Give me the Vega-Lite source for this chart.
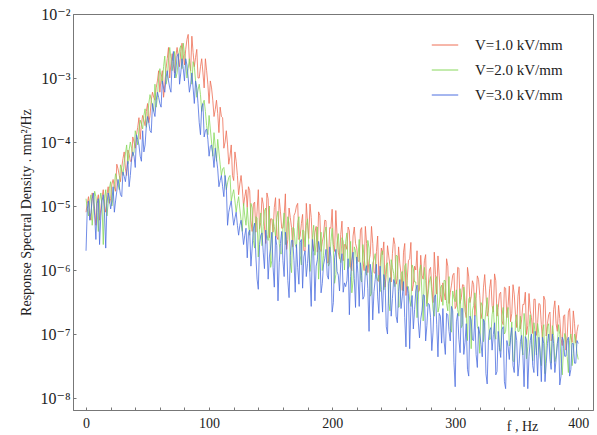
{
"$schema": "https://vega.github.io/schema/vega-lite/v6.json",
"width": 520, "height": 396,
"autosize": {"type": "none"},
"padding": {"left": 73, "top": 14, "right": 4, "bottom": 25},
"background": "white",
"config": {"view": {"stroke": "#777", "strokeWidth": 1}, "font": "Liberation Serif"},
"data": {"values": [
{"f":0,"a":8e-6,"b":1.3e-5,"c":2e-6},{"f":2,"a":1.4e-5,"b":7e-6,"c":1.2e-5},{"f":4,"a":6e-6,"b":1.5e-5,"c":8e-6},{"f":6,"a":1.2e-5,"b":9e-6,"c":1.6e-5},{"f":8,"a":5e-6,"b":1.4e-5,"c":3e-6},{"f":10,"a":1.5e-5,"b":4e-6,"c":1.3e-5},{"f":12,"a":9e-6,"b":1.6e-5,"c":7e-6},{"f":14,"a":1.8e-5,"b":2.5e-6,"c":1.5e-5},{"f":16,"a":8e-6,"b":1.8e-5,"c":2.2e-6},{"f":18,"a":2e-5,"b":1.1e-5,"c":1.6e-5},
{"f":20,"a":1.3e-5,"b":2.4e-5,"c":9e-6},{"f":22,"a":2.6e-5,"b":1.4e-5,"c":2e-5},{"f":24,"a":1.7e-5,"b":3.2e-5,"c":1.2e-5},{"f":26,"a":3.8e-5,"b":2.2e-5,"c":2.6e-5},{"f":28,"a":2.4e-5,"b":4.4e-5,"c":1.5e-5},{"f":30,"a":5.5e-5,"b":3e-5,"c":3.4e-5},{"f":32,"a":3.8e-5,"b":6.5e-5,"c":2.4e-5},{"f":34,"a":7.5e-5,"b":4.5e-5,"c":5e-5},{"f":36,"a":5e-5,"b":1e-4,"c":3e-5},{"f":38,"a":1.2e-4,"b":6e-5,"c":7e-5},
{"f":40,"a":8e-5,"b":1.5e-4,"c":4e-5},{"f":42,"a":1.7e-4,"b":9e-5,"c":1.1e-4},{"f":44,"a":1.1e-4,"b":2.2e-4,"c":6e-5},{"f":46,"a":2.6e-4,"b":1.6e-4,"c":1.5e-4},{"f":48,"a":1.8e-4,"b":3.3e-4,"c":9e-5},{"f":50,"a":4e-4,"b":2.4e-4,"c":2.5e-4},{"f":52,"a":2.6e-4,"b":5.5e-4,"c":1.5e-4},{"f":54,"a":6e-4,"b":3.5e-4,"c":4e-4},{"f":56,"a":4.5e-4,"b":8e-4,"c":2.5e-4},{"f":58,"a":9e-4,"b":5e-4,"c":6e-4},
{"f":60,"a":6e-4,"b":1.4e-3,"c":4e-4},{"f":62,"a":1.3e-3,"b":8e-4,"c":9e-4},{"f":64,"a":8e-4,"b":2.2e-3,"c":6e-4},{"f":66,"a":2e-3,"b":1e-3,"c":1.3e-3},{"f":68,"a":1e-3,"b":3e-3,"c":7e-4},{"f":70,"a":2.4e-3,"b":1.3e-3,"c":1.8e-3},{"f":72,"a":1.2e-3,"b":2.6e-3,"c":1e-3},{"f":74,"a":3e-3,"b":1.2e-3,"c":2.2e-3},{"f":76,"a":1.5e-3,"b":2.8e-3,"c":8e-4},{"f":78,"a":3.5e-3,"b":1.4e-3,"c":2e-3},
{"f":80,"a":1.6e-3,"b":2.4e-3,"c":9e-4},{"f":82,"a":4e-3,"b":1e-3,"c":1.6e-3},{"f":84,"a":1.8e-3,"b":2e-3,"c":6e-4},{"f":86,"a":4.5e-3,"b":8e-4,"c":1.2e-3},{"f":88,"a":1.5e-3,"b":1.5e-3,"c":4e-4},{"f":90,"a":2.8e-3,"b":5e-4,"c":7e-4},{"f":92,"a":1e-3,"b":8e-4,"c":2e-4},{"f":94,"a":2e-3,"b":3e-4,"c":3.5e-4},{"f":96,"a":7e-4,"b":4.5e-4,"c":1.2e-4},{"f":98,"a":1.3e-3,"b":1.8e-4,"c":1.6e-4},
{"f":100,"a":4e-4,"b":2.6e-4,"c":6e-5},{"f":102,"a":7e-4,"b":1e-4,"c":9e-5},{"f":104,"a":2.5e-4,"b":1.4e-4,"c":4e-5},{"f":106,"a":4.5e-4,"b":5e-5,"c":5.5e-5},{"f":108,"a":1.4e-4,"b":7e-5,"c":2e-5},{"f":110,"a":2.5e-4,"b":3e-5,"c":3e-5},{"f":112,"a":8e-5,"b":4e-5,"c":1.4e-5},{"f":114,"a":1.5e-4,"b":1.8e-5,"c":2e-5},{"f":116,"a":4.5e-5,"b":2.8e-5,"c":8e-6},{"f":118,"a":9e-5,"b":1.2e-5,"c":1.2e-5},
{"f":120,"a":2.5e-5,"b":1.8e-5,"c":5e-6},{"f":122,"a":5e-5,"b":8e-6,"c":8e-6},{"f":124,"a":1.5e-5,"b":1.4e-5,"c":3.5e-6},{"f":126,"a":3e-5,"b":6e-6,"c":6e-6},{"f":128,"a":1e-5,"b":1.1e-5,"c":2.5e-6},{"f":130,"a":1.8e-5,"b":5e-6,"c":4.5e-6},
{"f":132,"a":2e-5,"b":5.2e-6,"c":3.8e-6},{"f":134,"a":5.9e-6,"b":1.1e-5,"c":1.15e-6},{"f":136,"a":1.07e-5,"b":2.9e-6,"c":4.4e-6},{"f":138,"a":3.9e-6,"b":6.8e-6,"c":1.66e-6},{"f":140,"a":1.8e-5,"b":1.6e-6,"c":5e-7},{"f":142,"a":5.5e-6,"b":7.8e-6,"c":3.5e-6},{"f":144,"a":1.07e-5,"b":4.8e-6,"c":1.9e-6},{"f":146,"a":2.6e-6,"b":9.3e-6,"c":4.2e-6},{"f":148,"a":1.3e-5,"b":2.9e-6,"c":7.2e-7},{"f":150,"a":6.3e-6,"b":1.1e-6,"c":2.2e-6},
{"f":152,"a":3.9e-6,"b":6.2e-6,"c":1.1e-6},{"f":154,"a":1.35e-5,"b":3.4e-6,"c":3.4e-6},{"f":156,"a":3e-6,"b":8.3e-6,"c":3.3e-7},{"f":158,"a":8.1e-6,"b":1.8e-6,"c":2.6e-6},{"f":160,"a":4.5e-6,"b":4.5e-6,"c":1.4e-6},{"f":162,"a":1.55e-5,"b":2.5e-6,"c":3.9e-6},{"f":164,"a":3e-6,"b":6.8e-6,"c":6.8e-7},{"f":166,"a":6.6e-6,"b":1.3e-6,"c":1.7e-6},{"f":168,"a":2.3e-6,"b":4.6e-6,"c":2.9e-6},{"f":170,"a":7.9e-6,"b":2.5e-6,"c":4.5e-7},
{"f":172,"a":1.1e-5,"b":5.5e-6,"c":1.1e-6},{"f":174,"a":3.4e-6,"b":1.7e-6,"c":2.7e-6},{"f":176,"a":7.4e-6,"b":4.2e-6,"c":5.2e-7},{"f":178,"a":2e-6,"b":2.3e-6,"c":2e-6},{"f":180,"a":5.6e-6,"b":6.3e-6,"c":1.26e-6},{"f":182,"a":1.07e-5,"b":9.5e-7,"c":7.8e-7},{"f":184,"a":2.6e-6,"b":3.2e-6,"c":3e-6},{"f":186,"a":3.9e-6,"b":1.7e-6,"c":3.3e-7},{"f":188,"a":1.9e-6,"b":4.7e-6,"c":1.45e-6},{"f":190,"a":7.1e-6,"b":2e-6,"c":2e-6},
{"f":192,"a":2.75e-6,"b":9.8e-7,"c":6.2e-7},{"f":194,"a":6e-6,"b":3.8e-6,"c":1.5e-6},{"f":196,"a":1.3e-6,"b":2.3e-6,"c":8.3e-7},{"f":198,"a":4.6e-6,"b":1.3e-6,"c":2.3e-6},{"f":200,"a":8.9e-6,"b":4.5e-6,"c":2.2e-7},{"f":202,"a":1.95e-6,"b":6.2e-7,"c":1.55e-6},{"f":204,"a":3.4e-6,"b":2.7e-6,"c":9.5e-7},{"f":206,"a":1.5e-6,"b":1.66e-6,"c":4.7e-7},{"f":208,"a":5.8e-6,"b":3.2e-6,"c":1.8e-6},{"f":210,"a":2.5e-6,"b":1e-6,"c":6.3e-7},
{"f":212,"a":2.1e-6,"b":3.8e-6,"c":6.8e-7},{"f":214,"a":4.1e-6,"b":1.15e-6,"c":2e-7},{"f":216,"a":9.8e-7,"b":4.4e-7,"c":1.4e-6},{"f":218,"a":4.7e-6,"b":2.3e-6,"c":7.4e-7},{"f":220,"a":2.2e-6,"b":1.26e-6,"c":1.6e-6},{"f":222,"a":1.35e-6,"b":3e-6,"c":2.7e-7},{"f":224,"a":4.6e-6,"b":6.5e-7,"c":8.1e-7},{"f":226,"a":9.8e-7,"b":1.55e-6,"c":3.9e-7},{"f":228,"a":2.6e-6,"b":8.3e-7,"c":1.17e-6},{"f":230,"a":1.4e-6,"b":2.2e-6,"c":1.1e-7},
{"f":232,"a":4.8e-6,"b":4.3e-7,"c":8.5e-7},{"f":234,"a":9.1e-7,"b":1.45e-6,"c":4.6e-7},{"f":236,"a":1.95e-6,"b":7.8e-7,"c":1.23e-6},{"f":238,"a":6.6e-7,"b":8.3e-7,"c":2.1e-7},{"f":240,"a":2.2e-6,"b":1.8e-6,"c":5e-7},{"f":242,"a":2.75e-6,"b":4.9e-7,"c":8.5e-7},{"f":244,"a":8.5e-7,"b":1.2e-6,"c":1.3e-7},{"f":246,"a":1.66e-6,"b":3e-7,"c":6.2e-7},{"f":248,"a":6.5e-7,"b":1.45e-6,"c":1.9e-7},{"f":250,"a":3.2e-6,"b":8.9e-7,"c":7.1e-7},
{"f":252,"a":6e-7,"b":1.7e-6,"c":1.9e-7},{"f":254,"a":2.3e-6,"b":2.6e-7,"c":4.6e-7},{"f":256,"a":8.7e-7,"b":8.7e-7,"c":2.5e-7},{"f":258,"a":1.9e-6,"b":4.7e-7,"c":6.6e-7},{"f":260,"a":4e-7,"b":1.26e-6,"c":6.3e-8},{"f":262,"a":1.4e-6,"b":5.5e-7,"c":4.3e-7},{"f":264,"a":2.7e-6,"b":2.7e-7,"c":2.6e-7},{"f":266,"a":5.9e-7,"b":1.05e-6,"c":1.2e-7},{"f":268,"a":1e-6,"b":6.5e-7,"c":4.7e-7},{"f":270,"a":4.5e-7,"b":3.5e-7,"c":1.6e-7},
{"f":272,"a":1.7e-6,"b":1.2e-6,"c":1.7e-7},{"f":274,"a":7.2e-7,"b":1.6e-7,"c":4.1e-7},{"f":276,"a":1.74e-6,"b":6.9e-7,"c":7.8e-8},{"f":278,"a":5.2e-7,"b":4.2e-7,"c":3e-7},{"f":280,"a":1.1e-6,"b":7.9e-7,"c":1.8e-7},{"f":282,"a":3.1e-7,"b":2.4e-7,"c":1.07e-7},{"f":284,"a":8.5e-7,"b":7.2e-7,"c":4.1e-7},{"f":286,"a":1.66e-6,"b":2.2e-7,"c":4.4e-8},{"f":288,"a":4.1e-7,"b":5.2e-7,"c":1.9e-7},{"f":290,"a":6.3e-7,"b":2.8e-7,"c":2.5e-7},
{"f":292,"a":3.4e-7,"b":6.8e-7,"c":4.8e-8},{"f":294,"a":1.15e-6,"b":2.3e-7,"c":2e-7},{"f":296,"a":4.4e-7,"b":1.2e-7,"c":7.8e-8},{"f":298,"a":8.3e-7,"b":4.7e-7,"c":2.3e-7},{"f":300,"a":2.5e-7,"b":3.2e-7,"c":1.5e-8},
{"f":302,"a":1.1e-6,"b":2.4e-7,"c":2.1e-7},{"f":304,"a":3e-7,"b":5.1e-7,"c":5.1e-8},{"f":306,"a":5.9e-7,"b":1.4e-7,"c":2.5e-7},{"f":308,"a":2.3e-7,"b":3.3e-7,"c":7.4e-8},{"f":310,"a":1.1e-6,"b":7.9e-8,"c":2.8e-8},{"f":312,"a":3.1e-7,"b":3.8e-7,"c":1.9e-7},{"f":314,"a":6.8e-7,"b":2.3e-7,"c":8.1e-8},{"f":316,"a":1.9e-7,"b":4.4e-7,"c":1.95e-7},{"f":318,"a":8.1e-7,"b":1.3e-7,"c":3e-8},{"f":320,"a":4e-7,"b":5e-8,"c":1e-7},
{"f":322,"a":2.2e-7,"b":2.75e-7,"c":4.4e-8},{"f":324,"a":8.5e-7,"b":1.5e-7,"c":1.5e-7},{"f":326,"a":1.9e-7,"b":3.7e-7,"c":1.66e-8},{"f":328,"a":5.1e-7,"b":8.1e-8,"c":1.15e-7},{"f":330,"a":2.8e-7,"b":2e-7,"c":5.6e-8},{"f":332,"a":8.7e-7,"b":1.07e-7,"c":1.5e-7},{"f":334,"a":1.9e-7,"b":2.9e-7,"c":2.6e-8},{"f":336,"a":4.2e-7,"b":5.5e-8,"c":6.2e-8},{"f":338,"a":1.6e-7,"b":1.9e-7,"c":1.17e-7},{"f":340,"a":5.4e-7,"b":1e-7,"c":1.8e-8},
{"f":342,"a":1.8e-7,"b":2.1e-7,"c":7.9e-8},{"f":344,"a":5.6e-7,"b":6.5e-8,"c":4e-8},{"f":346,"a":2.1e-7,"b":1.55e-7,"c":1.26e-7},{"f":348,"a":4.2e-7,"b":3.7e-8,"c":2.5e-8},{"f":350,"a":1.26e-7,"b":2e-7,"c":7.9e-8},{"f":352,"a":5.5e-7,"b":1.1e-7,"c":3.5e-8},{"f":354,"a":1.66e-7,"b":6.8e-8,"c":9.5e-8},{"f":356,"a":2.9e-7,"b":2.1e-7,"c":1.5e-8},{"f":358,"a":9.8e-8,"b":4.1e-8,"c":8.1e-8},{"f":360,"a":4.3e-7,"b":1.26e-7,"c":4.5e-8},
{"f":362,"a":1.8e-7,"b":6.9e-8,"c":1e-7},{"f":364,"a":3.5e-7,"b":1.5e-7,"c":2.5e-8},{"f":366,"a":9.5e-8,"b":4.7e-8,"c":5.6e-8},{"f":368,"a":3e-7,"b":1.02e-7,"c":8.9e-8},{"f":370,"a":1.4e-7,"b":3.2e-8,"c":1.8e-8},{"f":372,"a":3.9e-7,"b":1.4e-7,"c":7.1e-8},{"f":374,"a":9.3e-8,"b":6.6e-8,"c":3.5e-8},{"f":376,"a":2e-7,"b":1.45e-7,"c":1e-7},{"f":378,"a":7.8e-8,"b":3.5e-8,"c":2.8e-8},{"f":380,"a":2.4e-7,"b":9.5e-8,"c":7.1e-8},
{"f":382,"a":1.45e-7,"b":4.6e-8,"c":4e-8},{"f":384,"a":2.8e-7,"b":1.4e-7,"c":8.9e-8},{"f":386,"a":8.5e-8,"b":3.8e-8,"c":2.2e-8},{"f":388,"a":1.9e-7,"b":5.9e-8,"c":7.9e-8},{"f":390,"a":5.6e-8,"b":8.9e-8,"c":4.5e-8},{"f":392,"a":2.2e-7,"b":2.5e-8,"c":8.9e-8},{"f":394,"a":9.5e-8,"b":1e-7,"c":2.8e-8},{"f":396,"a":2.3e-7,"b":5e-8,"c":7.1e-8},{"f":398,"a":7.2e-8,"b":7.9e-8,"c":3.5e-8},{"f":400,"a":1.4e-7,"b":4e-8,"c":7.1e-8},
{"f":1,"a":1.1e-5,"b":9e-6,"c":9e-6},{"f":3,"a":7e-6,"b":1.2e-5,"c":6e-6},{"f":5,"a":1.6e-5,"b":5e-6,"c":1.3e-5},{"f":7,"a":9e-6,"b":1.7e-5,"c":7e-6},{"f":9,"a":1.2e-5,"b":8e-6,"c":1.1e-5},{"f":11,"a":6e-6,"b":1.2e-5,"c":2.5e-6},{"f":13,"a":1.4e-5,"b":1e-5,"c":1.2e-5},{"f":15,"a":1e-5,"b":1.3e-5,"c":8e-6},{"f":17,"a":1.5e-5,"b":7e-6,"c":1.1e-5},{"f":19,"a":1.1e-5,"b":1.9e-5,"c":1.3e-5},
{"f":21,"a":2.2e-5,"b":1e-5,"c":1.2e-5},{"f":23,"a":2e-5,"b":2.2e-5,"c":8e-6},{"f":25,"a":4.5e-5,"b":2.6e-5,"c":1.7e-5},{"f":27,"a":3e-5,"b":1.8e-5,"c":2e-5},{"f":29,"a":4e-5,"b":3.8e-5,"c":1.4e-5},{"f":31,"a":7e-5,"b":4.8e-5,"c":2.9e-5},{"f":33,"a":3e-5,"b":9e-5,"c":3.5e-5},{"f":35,"a":6.5e-5,"b":7.5e-5,"c":2e-5},{"f":37,"a":5e-5,"b":8e-5,"c":5.5e-5},{"f":39,"a":1e-4,"b":7e-5,"c":6e-5},
{"f":41,"a":1.3e-4,"b":1.2e-4,"c":1.3e-4},{"f":43,"a":2.4e-4,"b":1.6e-4,"c":9e-5},{"f":45,"a":1.9e-4,"b":1.9e-4,"c":5e-5},{"f":47,"a":2.2e-4,"b":2.6e-4,"c":7e-5},{"f":49,"a":3e-4,"b":1.7e-4,"c":1.8e-4},{"f":51,"a":2e-4,"b":4e-4,"c":2e-4},{"f":53,"a":4.5e-4,"b":4.5e-4,"c":1.4e-4},{"f":55,"a":5e-4,"b":3e-4,"c":3e-4},{"f":57,"a":7e-4,"b":3.5e-4,"c":4.5e-4},{"f":59,"a":1.3e-3,"b":1e-3,"c":5e-4},
{"f":61,"a":1e-3,"b":1e-3,"c":3.5e-4},{"f":63,"a":5e-4,"b":1.5e-3,"c":7e-4},{"f":65,"a":1.4e-3,"b":8e-4,"c":1e-3},{"f":67,"a":3e-3,"b":1.9e-3,"c":9e-4},{"f":69,"a":1.7e-3,"b":2e-3,"c":6e-4},{"f":71,"a":1.6e-3,"b":1.8e-3,"c":2.6e-3},{"f":73,"a":2.2e-3,"b":1e-3,"c":1.3e-3},{"f":75,"a":2.1e-3,"b":1.9e-3,"c":2.4e-3},{"f":77,"a":2.6e-3,"b":3.2e-3,"c":1.2e-3},{"f":79,"a":2.3e-3,"b":3.5e-3,"c":1.4e-3},
{"f":81,"a":2.8e-3,"b":1.7e-3,"c":2e-3},{"f":83,"a":4.8e-3,"b":1.4e-3,"c":1e-3},{"f":85,"a":1.3e-3,"b":1.3e-3,"c":8e-4},{"f":87,"a":2.5e-3,"b":1.8e-3,"c":7e-4},{"f":89,"a":2.1e-3,"b":9e-4,"c":9e-4},{"f":91,"a":1e-3,"b":6.5e-4,"c":4e-4},{"f":93,"a":1.5e-3,"b":5.5e-4,"c":1.3e-4},{"f":95,"a":1.2e-3,"b":4e-4,"c":4e-4},{"f":97,"a":2e-3,"b":3e-4,"c":1.5e-4},{"f":99,"a":8e-4,"b":1.3e-4,"c":1.1e-4},
{"f":101,"a":9e-4,"b":1.6e-4,"c":8.5e-5},{"f":103,"a":4.5e-4,"b":6e-5,"c":6.5e-5},{"f":105,"a":3.2e-4,"b":8.5e-5,"c":8e-5},{"f":107,"a":2.8e-4,"b":1.1e-4,"c":3.8e-5},{"f":109,"a":3.5e-4,"b":4.5e-5,"c":2.5e-5},{"f":111,"a":2.4e-4,"b":3.8e-5,"c":2e-5},{"f":113,"a":1e-4,"b":2.8e-5,"c":3e-5},{"f":115,"a":9e-5,"b":2.3e-5,"c":5e-6},{"f":117,"a":6e-5,"b":3e-5,"c":1e-5},{"f":119,"a":3e-5,"b":1.5e-5,"c":7.5e-6},
{"f":121,"a":7e-5,"b":1.2e-5,"c":6.5e-6},{"f":123,"a":3e-5,"b":1.1e-5,"c":5e-6},{"f":125,"a":2.2e-5,"b":9e-6,"c":5e-6},{"f":127,"a":1.9e-5,"b":4e-6,"c":4e-6},{"f":129,"a":1.4e-5,"b":7e-6,"c":3.5e-6},
{"f":131,"a":9.5e-6,"b":9.5e-6,"c":1.55e-6},{"f":133,"a":1.74e-5,"b":3.5e-6,"c":4.2e-6},{"f":135,"a":4e-6,"b":9.3e-6,"c":2.2e-6},{"f":137,"a":1.15e-5,"b":2.2e-6,"c":5.4e-6},{"f":139,"a":8.3e-6,"b":6.5e-6,"c":7.2e-7},{"f":141,"a":4.4e-6,"b":4.9e-6,"c":2.5e-6},{"f":143,"a":1.35e-5,"b":2.4e-6,"c":3.8e-6},{"f":145,"a":4.7e-6,"b":8.3e-6,"c":1.05e-6},{"f":147,"a":1.6e-5,"b":3.6e-6,"c":2.9e-6},{"f":149,"a":3.2e-6,"b":1e-5,"c":1.6e-6},
{"f":151,"a":6.3e-6,"b":1.4e-6,"c":3.9e-6},{"f":153,"a":9.5e-6,"b":4.8e-6,"c":5.4e-7},{"f":155,"a":3.3e-6,"b":6.6e-6,"c":2.4e-6},{"f":157,"a":1.3e-5,"b":2.6e-6,"c":1.3e-6},{"f":159,"a":4.5e-6,"b":1.8e-6,"c":4e-6},{"f":161,"a":7e-6,"b":7.8e-6,"c":7.9e-7},{"f":163,"a":2.1e-6,"b":3e-6,"c":2.4e-6},{"f":165,"a":9.3e-6,"b":5.3e-6,"c":3.7e-7},{"f":167,"a":4.6e-6,"b":9.1e-7,"c":2.9e-6},{"f":169,"a":7.1e-6,"b":4.5e-6,"c":1.4e-6},
{"f":171,"a":1e-5,"b":2.2e-6,"c":2.5e-6},{"f":173,"a":3e-6,"b":6.8e-6,"c":6e-7},{"f":175,"a":5.3e-6,"b":1.2e-6,"c":3e-6},{"f":177,"a":2e-6,"b":4.1e-6,"c":1.6e-6},{"f":179,"a":1.1e-5,"b":5e-6,"c":7.9e-7},{"f":181,"a":3.1e-6,"b":2.5e-6,"c":2.5e-6},{"f":183,"a":6.6e-6,"b":1.5e-6,"c":2.7e-7},{"f":185,"a":2e-6,"b":5e-6,"c":1.9e-6},{"f":187,"a":4.8e-6,"b":2.7e-6,"c":1.15e-6},{"f":189,"a":8.1e-6,"b":7.2e-7,"c":2.8e-6},
{"f":191,"a":1.95e-6,"b":3.9e-6,"c":4.4e-7},{"f":193,"a":3.4e-6,"b":1.7e-6,"c":1.2e-6},{"f":195,"a":5.9e-6,"b":4.7e-6,"c":2.1e-6},{"f":197,"a":1.3e-6,"b":1.15e-6,"c":7.2e-7},{"f":199,"a":4.5e-6,"b":2.8e-6,"c":1.6e-6},{"f":201,"a":2.5e-6,"b":2e-6,"c":3.1e-7},{"f":203,"a":8.5e-6,"b":8.5e-7,"c":2.1e-6},{"f":205,"a":1.9e-6,"b":3.7e-6,"c":8.3e-7},{"f":207,"a":3.6e-6,"b":1.3e-6,"c":1.3e-6},{"f":209,"a":1.4e-6,"b":2.8e-6,"c":4.5e-7},
{"f":211,"a":2.5e-6,"b":2.75e-6,"c":5.5e-7},{"f":213,"a":4.7e-6,"b":1.05e-6,"c":1.5e-6},{"f":215,"a":1.1e-6,"b":2.8e-6,"c":7.9e-7},{"f":217,"a":3.4e-6,"b":6.8e-7,"c":1.9e-6},{"f":219,"a":2.6e-6,"b":2e-6,"c":2.6e-7},{"f":221,"a":1.4e-6,"b":1.55e-6,"c":8.7e-7},{"f":223,"a":4.2e-6,"b":7.4e-7,"c":1.3e-6},{"f":225,"a":1.4e-6,"b":2.5e-6,"c":3.5e-7},{"f":227,"a":4.8e-6,"b":1.07e-6,"c":9.5e-7},{"f":229,"a":9.1e-7,"b":2.9e-6,"c":5.1e-7},
{"f":231,"a":1.74e-6,"b":3.9e-7,"c":1.23e-6},{"f":233,"a":2.6e-6,"b":1.3e-6,"c":1.66e-7},{"f":235,"a":8.9e-7,"b":1.8e-6,"c":7.1e-7},{"f":237,"a":3.4e-6,"b":6.8e-7,"c":3.8e-7},{"f":239,"a":1.15e-6,"b":4.6e-7,"c":1.15e-6},{"f":241,"a":1.74e-6,"b":2e-6,"c":2.2e-7},{"f":243,"a":5.4e-7,"b":7.6e-7,"c":6.6e-7},{"f":245,"a":2.4e-6,"b":1.3e-6,"c":1e-7},{"f":247,"a":1.15e-6,"b":2.3e-7,"c":7.6e-7},{"f":249,"a":1.8e-6,"b":1.1e-6,"c":3.6e-7},
{"f":251,"a":2.5e-6,"b":5.5e-7,"c":6.2e-7},{"f":253,"a":7.4e-7,"b":1.66e-6,"c":1.5e-7},{"f":255,"a":1.26e-6,"b":2.8e-7,"c":7.1e-7},{"f":257,"a":4.8e-7,"b":9.5e-7,"c":3.8e-7},{"f":259,"a":2.6e-6,"b":1.15e-6,"c":1.8e-7},{"f":261,"a":6.9e-7,"b":5.5e-7,"c":5.5e-7},{"f":263,"a":1.5e-6,"b":3.4e-7,"c":5.9e-8},{"f":265,"a":4.7e-7,"b":1.2e-6,"c":4e-7},{"f":267,"a":1.15e-6,"b":6.5e-7,"c":2.4e-7},{"f":269,"a":2e-6,"b":1.8e-7,"c":5.8e-7},
{"f":271,"a":4.9e-7,"b":9.8e-7,"c":8.7e-8},{"f":273,"a":8.3e-7,"b":4.2e-7,"c":2.3e-7},{"f":275,"a":1.4e-6,"b":1.1e-6,"c":4e-7},{"f":277,"a":3e-7,"b":2.7e-7,"c":1.35e-7},{"f":279,"a":1e-6,"b":6.5e-7,"c":2.9e-7},{"f":281,"a":5.5e-7,"b":4.4e-7,"c":5.5e-8},{"f":283,"a":1.9e-6,"b":1.9e-7,"c":3.7e-7},{"f":285,"a":4.2e-7,"b":7.9e-7,"c":1.4e-7},{"f":287,"a":8.1e-7,"b":2.7e-7,"c":2.1e-7},{"f":289,"a":3.2e-7,"b":5.8e-7,"c":7.2e-8},
{"f":291,"a":4.4e-7,"b":6.9e-7,"c":7.8e-8},{"f":293,"a":1.5e-6,"b":3e-7,"c":2.1e-7},{"f":295,"a":3e-7,"b":7.9e-7,"c":1.1e-7},{"f":297,"a":5.8e-7,"b":1.07e-7,"c":2.7e-7},{"f":299,"a":8.9e-7,"b":3.6e-7,"c":3.6e-8},{"f":301,"a":2.75e-7,"b":4.9e-7,"c":1.55e-7},{"f":303,"a":1.07e-6,"b":1.9e-7,"c":8.3e-8},{"f":305,"a":3.7e-7,"b":1.26e-7,"c":2.5e-7},{"f":307,"a":5.8e-7,"b":5.4e-7,"c":4.8e-8},{"f":309,"a":1.8e-7,"b":2e-7,"c":1.45e-7},
{"f":311,"a":7.8e-7,"b":3.5e-7,"c":2.2e-8},{"f":313,"a":3.8e-7,"b":5.9e-8,"c":1.66e-7},{"f":315,"a":5.9e-7,"b":2.8e-7,"c":7.9e-8},{"f":317,"a":3.6e-7,"b":3e-7,"c":4.8e-8},{"f":319,"a":7.1e-7,"b":1.15e-7,"c":1.3e-7},{"f":321,"a":1.74e-7,"b":3.1e-7,"c":6.9e-8},{"f":323,"a":5.4e-7,"b":7.6e-8,"c":1.7e-7},{"f":325,"a":4.2e-7,"b":2.4e-7,"c":2.4e-8},{"f":327,"a":2.3e-7,"b":1.8e-7,"c":8.1e-8},{"f":329,"a":7.1e-7,"b":8.9e-8,"c":1.26e-7},
{"f":331,"a":2.2e-7,"b":2.75e-7,"c":9.8e-8},{"f":333,"a":6.8e-7,"b":8.3e-8,"c":2.3e-8},{"f":335,"a":2.6e-7,"b":2e-7,"c":1.1e-7},{"f":337,"a":4.5e-7,"b":5.4e-8,"c":4.3e-8},{"f":339,"a":1.4e-7,"b":2.6e-7,"c":1.3e-7},{"f":341,"a":5.2e-7,"b":1.1e-7,"c":1.4e-8},{"f":343,"a":2.8e-7,"b":2.6e-7,"c":6.3e-8},{"f":345,"a":1.55e-7,"b":7.9e-8,"c":8.9e-8},{"f":347,"a":5.9e-7,"b":3.8e-8,"c":3.2e-8},{"f":349,"a":2e-7,"b":1.6e-7,"c":1.1e-7},
{"f":351,"a":3.9e-7,"b":1.1e-7,"c":2.2e-8},{"f":353,"a":1.2e-7,"b":1.9e-7,"c":7.6e-8},{"f":355,"a":2.9e-7,"b":4.7e-8,"c":4.7e-8},{"f":357,"a":4.5e-7,"b":1.3e-7,"c":9.1e-8},{"f":359,"a":1.35e-7,"b":6.3e-8,"c":1.4e-8},{"f":361,"a":2.3e-7,"b":2e-7,"c":7.9e-8},{"f":363,"a":1.02e-7,"b":3.8e-8,"c":3.2e-8},{"f":365,"a":3.5e-7,"b":1.05e-7,"c":1.1e-7},{"f":367,"a":1.5e-7,"b":1.45e-7,"c":2.2e-8},{"f":369,"a":2.9e-7,"b":4.5e-8,"c":5.6e-8},
{"f":371,"a":7.8e-8,"b":1.1e-7,"c":8.9e-8},{"f":373,"a":3.4e-7,"b":2.4e-8,"c":1.8e-8},{"f":375,"a":1.45e-7,"b":1.3e-7,"c":7.1e-8},{"f":377,"a":2.2e-7,"b":6.3e-8,"c":4e-8},{"f":379,"a":8.5e-8,"b":1.35e-7,"c":1e-7},{"f":381,"a":3.3e-7,"b":3.7e-8,"c":2.5e-8},{"f":383,"a":1.1e-7,"b":7.1e-8,"c":7.1e-8},{"f":385,"a":1.74e-7,"b":9.8e-8,"c":1.6e-8},{"f":387,"a":6.6e-8,"b":2.3e-8,"c":8.9e-8},{"f":389,"a":2e-7,"b":1.02e-7,"c":4.5e-8},
{"f":391,"a":8.9e-8,"b":4.5e-8,"c":7.9e-8},{"f":393,"a":2.5e-7,"b":7.9e-8,"c":2.2e-8},{"f":395,"a":7.4e-8,"b":3.2e-8,"c":7.1e-8},{"f":397,"a":1.45e-7,"b":1e-7,"c":3.5e-8},{"f":399,"a":1.1e-7,"b":5e-8,"c":7.9e-8}
]},
"transform": [{"fold": ["a", "b", "c"], "as": ["s", "v"]}],
"mark": {"type": "line", "strokeWidth": 0.8, "clip": true},
"encoding": {
  "x": {"field": "f", "type": "quantitative", "sort": "ascending",
    "scale": {"domain": [-10.6, 412], "nice": false, "zero": false},
    "axis": {"values": [0,20,40,60,80,100,120,140,160,180,200,220,240,260,280,300,320,340,360,380,400],
      "labelExpr": "datum.value % 100 === 0 ? datum.label : ''",
      "grid": false, "tickSize": -3, "tickColor": "#777", "domainColor": "#777",
      "labelFontSize": 14, "labelColor": "#222", "labelPadding": 9, "labelFont": "Liberation Serif",
      "title": "f , Hz", "titleFont": "Liberation Serif", "titleFontSize": 14, "titleFontWeight": "normal", "titleColor": "#222",
      "titleX": 449, "titleY": 9, "titleAlign": "center", "titleBaseline": "top"}},
  "y": {"field": "v", "type": "quantitative",
    "scale": {"type": "log", "domain": [6.5e-9, 0.01], "nice": false},
    "axis": {"values": [1e-8, 1e-7, 1e-6, 1e-5, 1e-4, 1e-3, 1e-2],
      "labelExpr": "['10⁻⁸','10⁻⁷','10⁻⁶','10⁻⁵','10⁻⁴','10⁻³','10⁻²'][round(log(datum.value)/LN10)+8]",
      "grid": false, "tickSize": -3, "tickColor": "#777", "domainColor": "#777",
      "labelFontSize": 16, "labelColor": "#222", "labelPadding": 6, "labelFont": "Liberation Serif, DejaVu Serif",
      "title": "Response Spectral Density . mm²/Hz", "titleFont": "Liberation Serif", "titleFontSize": 14, "titleFontWeight": "normal", "titleColor": "#222",
      "titlePadding": 6}},
  "color": {"field": "s", "type": "nominal",
    "scale": {"domain": ["a", "b", "c"], "range": ["#ee6f55", "#88d85c", "#4d6fe0"]},
    "legend": {"orient": "none", "legendX": 358, "legendY": 17, "title": null,
      "symbolType": "stroke", "symbolSize": 700, "symbolStrokeWidth": 1,
      "labelExpr": "datum.value == 'a' ? 'V=1.0 kV/mm' : datum.value == 'b' ? 'V=2.0 kV/mm' : 'V=3.0 kV/mm'",
      "labelFont": "Liberation Serif", "labelFontSize": 15, "labelColor": "#222", "labelOffset": 16, "rowPadding": 3}}
}
}
